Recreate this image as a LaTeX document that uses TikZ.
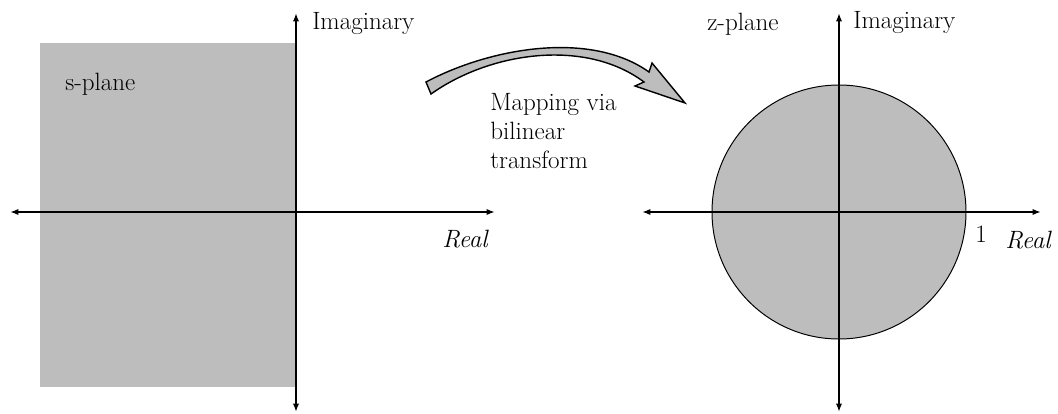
\documentclass[tikz,border=0pt]{standalone}
\usepackage{fontspec}
\usepackage{tikz}
\usetikzlibrary{arrows.meta, positioning}

\begin{document}
\begin{tikzpicture}[x=0.025cm, y=-0.025cm,
    axis/.style={line width=1.2pt, {Latex[length=6pt,width=4.5pt]}-{Latex[length=6pt,width=4.5pt]}},
    region/.style={fill=black!26},
    lbl/.style={inner sep=0pt, anchor=base west, font=\fontsize{17.8}{20.5}\selectfont}]
    \useasboundingbox (0,0) rectangle (1058,414);
    \coordinate (sW) at (10,212);
    \coordinate (sE) at (495,212);
    \coordinate (sN) at (296,13);
    \coordinate (sS) at (296,412);
    \coordinate (zO) at (839,212);
    \coordinate (zW) at (642,212);
    \coordinate (zE) at (1041,212);
    \coordinate (zN) at (839,13);
    \coordinate (zS) at (839,412);
    \fill[region] (40,43) rectangle (296,387);
    \filldraw[region, draw=black, line width=0.7pt] (zO) circle[radius=127];
    \draw[axis] (sW) -- (sE);
    \draw[axis] (sS) -- (sN);
    \draw[axis] (zW) -- (zE);
    \draw[axis] (zS) -- (zN);
    \node[lbl] (sim) at (312,29) {Imaginary};
    \node[lbl] (sre) at (442,247) {\itshape Real};
    \node[lbl] (splane) at (65,90) {s-plane};
    \node[lbl] (zim) at (853,28) {Imaginary};
    \node[lbl] (zre) at (1005,248) {\itshape Real};
    \node[lbl] (one) at (975,242) {1};
    \node[lbl] (zplane) at (707,30) {z-plane};
    \node[lbl, anchor=north west, align=left] (map) at (490,93) {Mapping via\\bilinear\\transform};
    \coordinate (tail) at (428,88);
    \coordinate (tip) at (685,103);
    \filldraw[region, draw=black, line width=1pt, line join=miter]
        (tail) ++(-2,-6) .. controls (490,48) and (590,30) .. (649,72)
        -- (652,63) -- (tip) -- (635,86) -- (644,82)
        .. controls (585,38) and (490,52) .. ([shift={(3,6)}]tail) -- cycle;
\end{tikzpicture}
\end{document}
